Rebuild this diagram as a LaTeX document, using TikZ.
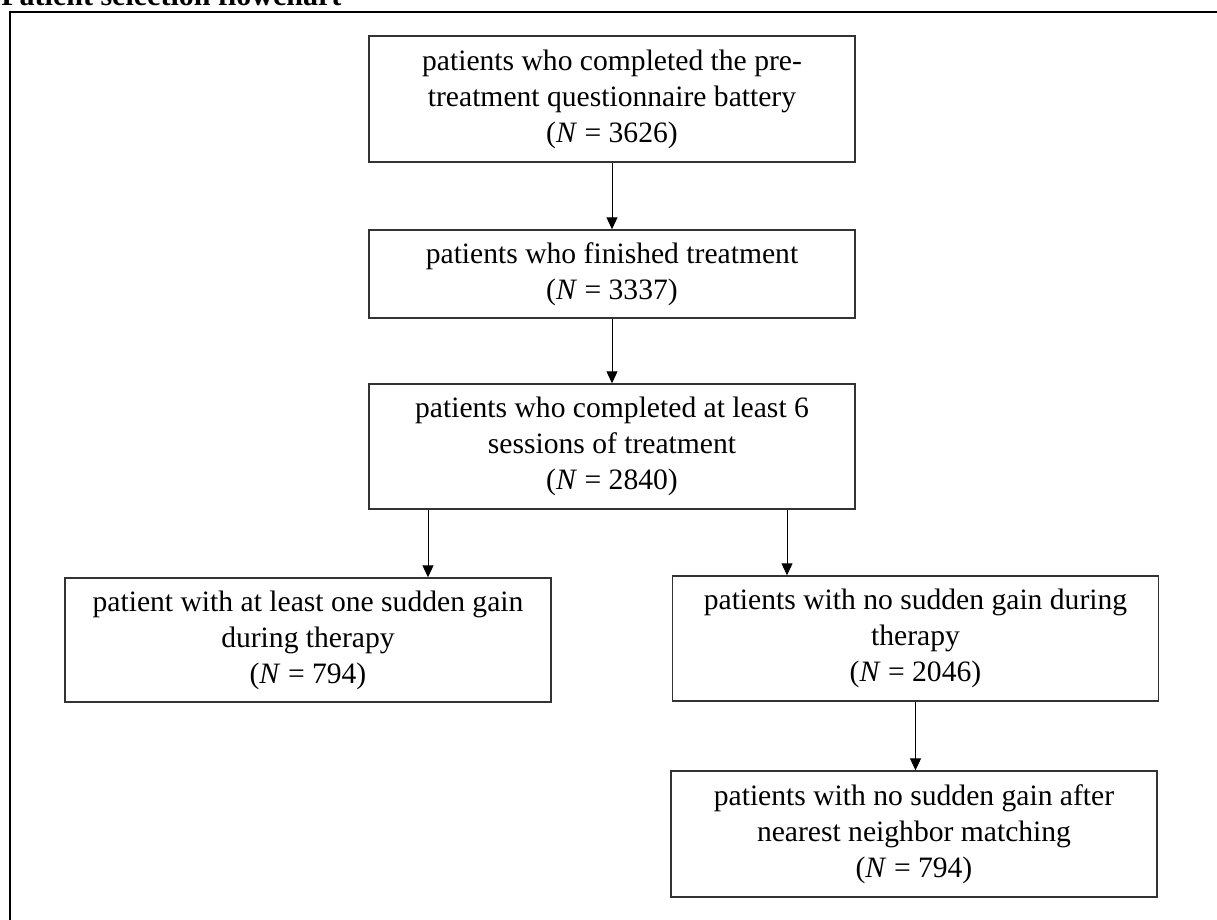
\documentclass[tikz,border=0pt]{standalone}
\usepackage{fontspec}
\setmainfont{Liberation Serif}
\usetikzlibrary{arrows.meta}

\tikzset{
  box/.style={draw=black!80, line width=0.7pt, align=center, inner sep=0pt,
    minimum width=243pt, font=\fontsize{14.8}{18}\selectfont},
  flow/.style={-{Triangle[length=6pt,width=5.5pt]}, line width=0.5pt},
}

\begin{document}
\begin{tikzpicture}[x=0.5pt,y=-0.5pt]
\useasboundingbox (0,0) rectangle (1217,920);
\clip (0,0) rectangle (1217,920);
% title, cut off at the top edge
\node[anchor=base west, inner sep=0pt, font=\bfseries\fontsize{15}{18}\selectfont] (title) at (1,6) {Patient selection flowchart};
\draw[line width=1.1pt] (10,950) |- (1250,12);
% boxes
\node[box, minimum height=63pt] (pre) at (612,99) {patients who completed the pre-\\treatment questionnaire battery\\(\textit{N} = 3626)};
\node[box, minimum height=44pt] (finished) at (612,274) {patients who finished treatment\\(\textit{N} = 3337)};
\node[box, minimum height=62.5pt] (sessions) at (612,446.5) {patients who completed at least 6\\sessions of treatment\\(\textit{N} = 2840)};
\node[box, minimum height=62pt] (gain) at (308,640) {patient with at least one sudden gain\\during therapy\\(\textit{N} = 794)};
\node[box, minimum height=62.5pt] (nogain) at (915.5,638.5) {patients with no sudden gain during\\therapy\\(\textit{N} = 2046)};
\node[box, minimum height=63pt] (matched) at (914,834) {patients with no sudden gain after\\nearest neighbor matching\\(\textit{N} = 794)};
% arrows
\coordinate (left) at (428,0);
\coordinate (right) at (787,0);
\draw[flow] (pre.south) -- (finished.north);
\draw[flow] (finished.south) -- (sessions.north);
\draw[flow] (sessions.south -| left) -- (gain.north -| left);
\draw[flow] (sessions.south -| right) -- (nogain.north -| right);
\draw[flow] (nogain.south) -- (nogain.south |- matched.north);
\end{tikzpicture}
\end{document}
